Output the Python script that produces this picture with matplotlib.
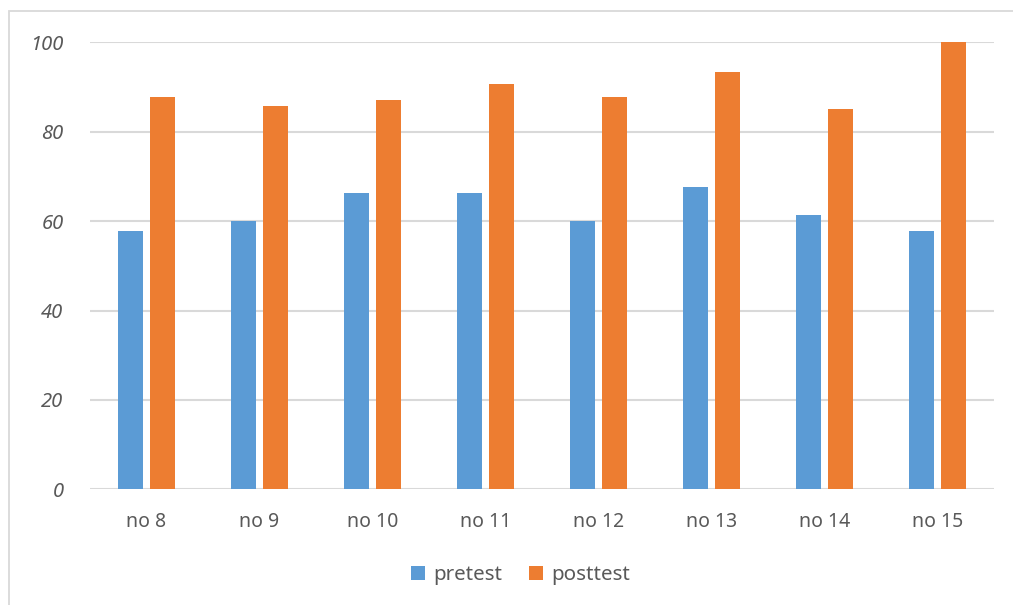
import numpy as np
import matplotlib.pyplot as plt
from matplotlib.patches import Rectangle

##data
labels = ['no 8', 'no 9', 'no 10', 'no 11', 'no 12', 'no 13', 'no 14', 'no 15']
pretest = [57.8, 60.0, 66.3, 66.3, 60.0, 67.7, 61.4, 57.7]
posttest = [87.8, 85.7, 87.0, 90.7, 87.8, 93.4, 85.0, 100.0]

blue = '#5B9BD5'
orange = '#ED7D31'
grid = '#D9D9D9'
txt = '#595959'

plt.rcParams['font.family'] = ['Noto Sans', 'DejaVu Sans']

##set up the figure
fig = plt.figure(figsize=(10.13, 6.05), dpi=100)
ax = fig.add_axes([90/1013, 1 - 489.3/605, (994 - 90)/1013, (489.3 - 42.3)/605])

# outer chart border
fig.patches.append(Rectangle((9/1013, -0.05), 1.1, 1 - 11/605 + 0.05,
                             transform=fig.transFigure, fill=False,
                             edgecolor=grid, linewidth=1.3))

x = np.arange(len(labels))
w = 0.221
off = 0.142

ax.bar(x - off, pretest, w, color=blue, label='pretest', zorder=3)
ax.bar(x + off, posttest, w, color=orange, label='posttest', zorder=3)

##axes styling
ax.set_xlim(-0.5, len(labels) - 0.5)
ax.set_ylim(0, 100)
ax.set_yticks([0, 20, 40, 60, 80, 100])
ax.yaxis.grid(True, color=grid, linewidth=1.5, zorder=0)
for s in ax.spines.values():
    s.set_visible(False)

ax.set_xticks(x)
ax.set_xticklabels(labels)
ax.tick_params(axis='x', length=0, pad=16, labelsize=14, labelcolor=txt)
ax.tick_params(axis='y', length=0, pad=19, labelsize=14.5, labelcolor=txt)
for t in ax.get_yticklabels():
    t.set_fontstyle('italic')

fig.legend(loc='center', bbox_to_anchor=(520.5/1013, 1 - 575/605), ncol=2,
           frameon=False, fontsize=14.8, labelcolor=txt, handlelength=0.7,
           handleheight=0.7, handletextpad=0.4, columnspacing=1.3)

fig.savefig('out.png', dpi=100)
